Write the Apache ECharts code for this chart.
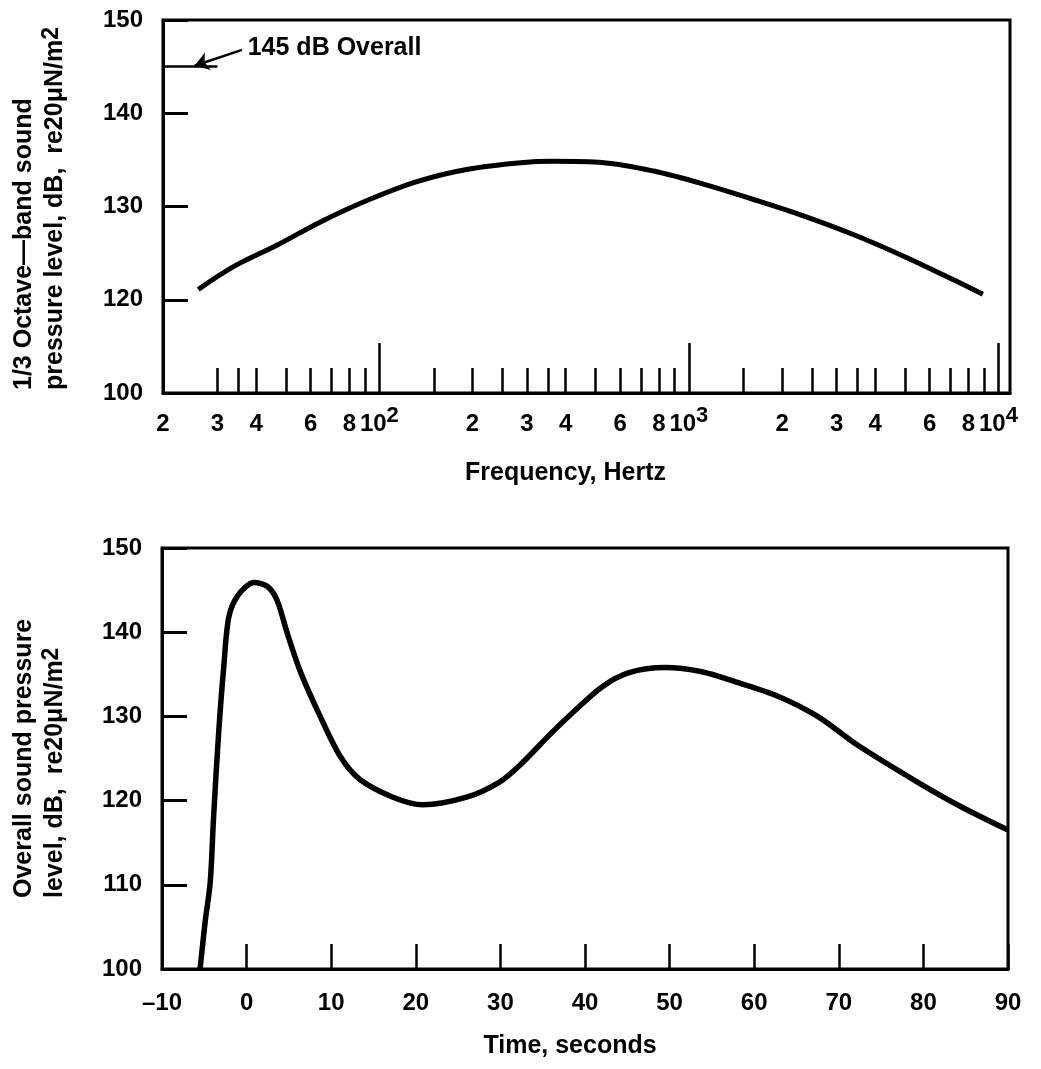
<!DOCTYPE html>
<html>
<head>
<meta charset="utf-8">
<script src="https://cdn.jsdelivr.net/npm/echarts@6/dist/echarts.min.js"></script>
<style>
  html, body { margin: 0; padding: 0; background: #fff; }
  #chart { width: 1041px; height: 1069px; }
</style>
</head>
<body>
<div id="chart"></div>
<script>
// 1/3 octave-band spectrum (top panel)
const freqHz = [26, 34, 47, 65, 92, 133, 193, 286, 366, 531, 769, 1115, 1617, 2343, 3396, 4922, 6796, 8909]
const bandLevelDb = [121.1, 123.6, 125.9, 128.4, 130.7, 132.7, 134.0, 134.7, 134.85, 134.7, 133.8, 132.4, 130.75, 129.0, 127.0, 124.7, 122.5, 120.6]

// overall level vs time (bottom panel)
const timeSec = [-5.5, -4.9, -4.3, -3.9, -3.3, -2.7, -2.1, -1.0, 0.9, 2.5, 3.6, 4.8, 6.4, 8.7, 11.1, 13.4, 17.3, 20.8, 26.0, 29.9, 32.2, 36.1, 38.5, 42.0, 45.2, 49.5, 53.8, 57.8, 62.8, 67.5, 72.2, 79.3, 84.4, 90]
const overallDb = [100, 105.6, 110.3, 118.1, 128.1, 135.9, 141.8, 144.4, 145.9, 145.4, 143.8, 139.9, 135.2, 130.0, 125.2, 122.5, 120.4, 119.5, 120.4, 122.2, 124.1, 128.1, 130.4, 133.5, 135.2, 135.8, 135.3, 134.1, 132.4, 130.0, 126.6, 122.2, 119.3, 116.5]

// frequency axis ticks and labels
const minorTicksHz = [30, 35, 40, 50, 60, 70, 80, 90, 150, 200, 250, 300, 350, 400, 500, 600, 700, 800, 900, 1500, 2000, 2500, 3000, 3500, 4000, 5000, 6000, 7000, 8000, 9000]
const majorTicksHz = [100, 1000, 10000]
const freqLabelsHz = [20, 30, 40, 60, 80, 100, 200, 300, 400, 600, 800, 1000, 2000, 3000, 4000, 6000, 8000, 10000]

// "145 dB Overall" marker
const overallMarkDb = 145
const overallMarkHz = [20, 30]
const arrowFrom = [36, 146.8]
const arrowTo = [25.3, 145.1]

const FONT = '"Liberation Sans", Arial, Helvetica, sans-serif'
const black = '#000'

function freqLabel(v) {
  const n = Math.round(v)
  const exp = Math.floor(Math.log10(n) + 1e-9)
  const p = Math.pow(10, exp)
  if (p === n) return '{n|10}{sup|' + exp + '}'
  return '{n|' + Math.round(n / p) + '}'
}

const chart = echarts.init(document.getElementById('chart'))

const logAxis = {
  type: 'log',
  logBase: 10,
  gridIndex: 0,
  position: 'bottom',
  offset: 0,
  min: 20,
  max: 10900,
  splitLine: { show: false },
  minorTick: { show: false },
  minorSplitLine: { show: false }
}

const labelStyle = { color: black, fontFamily: FONT, fontSize: 24, fontWeight: 'bold' }
const nameStyle = { color: black, fontFamily: FONT, fontSize: 25, fontWeight: 'bold' }

// rotated two-line y titles, superscript via rich text
function yTitle(line1, line2, x, y) {
  return {
    type: 'text',
    x: x,
    y: y,
    rotation: Math.PI / 2,
    style: {
      text: '{n|' + line1 + '}\n{n|' + line2 + '}{sup|2}',
      fill: black,
      fontSize: 25,
      fontWeight: 'bold',
      fontFamily: FONT,
      align: 'left',
      verticalAlign: 'middle',
      rich: {
        n: { fontSize: 25, fontWeight: 'bold', fontFamily: FONT, fill: black, lineHeight: 31 },
        sup: { fontSize: 23, fontWeight: 'bold', fontFamily: FONT, fill: black, lineHeight: 14, verticalAlign: 'top' }
      }
    }
  }
}

const option = {
  animation: false,
  backgroundColor: '#fff',
  grid: [
    { left: 163, top: 20, width: 847, height: 373, show: true, borderColor: black, borderWidth: 3 },
    { left: 162, top: 548, width: 846, height: 421, show: true, borderColor: black, borderWidth: 3 }
  ],
  xAxis: [
    {
      ...logAxis,
      name: 'Frequency, Hertz',
      nameLocation: 'middle',
      nameGap: 68,
      nameTextStyle: { ...nameStyle, padding: [0, 42, 0, 0] },
      axisLine: { show: true, onZero: false, lineStyle: { color: black, width: 3 } },
      axisTick: { show: true, inside: true, length: 25, customValues: minorTicksHz, lineStyle: { color: black, width: 2.5 } },
      axisLabel: {
        show: true,
        customValues: freqLabelsHz,
        margin: 12,
        formatter: freqLabel,
        ...labelStyle,
        rich: {
          n: { ...labelStyle, lineHeight: 39 },
          sup: { ...labelStyle, fontSize: 22, lineHeight: 24, verticalAlign: 'top' }
        }
      }
    },
    {
      ...logAxis,
      axisLine: { show: false, onZero: false },
      axisTick: { show: true, inside: true, length: 50, customValues: majorTicksHz, lineStyle: { color: black, width: 2.5 } },
      axisLabel: { show: false }
    },
    {
      type: 'value',
      gridIndex: 1,
      min: -10,
      max: 90,
      interval: 10,
      name: 'Time, seconds',
      nameLocation: 'middle',
      nameGap: 65,
      nameTextStyle: { ...nameStyle, padding: [0, 30, 0, 0] },
      axisLine: { show: true, onZero: false, lineStyle: { color: black, width: 3 } },
      axisTick: { show: true, inside: true, length: 25, lineStyle: { color: black, width: 2.5 } },
      axisLabel: {
        ...labelStyle, margin: 22,
        formatter: v => (v < 0 ? '\u2013' + Math.abs(v) : String(v))
      },
      splitLine: { show: false }
    }
  ],
  yAxis: [
    {
      type: 'value',
      gridIndex: 0,
      min: 110,
      max: 150,
      interval: 10,
      axisLine: { show: true, onZero: false, lineStyle: { color: black, width: 3 } },
      axisTick: { show: true, inside: true, length: 25, lineStyle: { color: black, width: 3 } },
      axisLabel: {
        ...labelStyle, margin: 20,
        // broken axis: the bottom of this scale is labelled 100
        formatter: v => (v === 110 ? '100' : String(v))
      },
      splitLine: { show: false }
    },
    {
      type: 'value',
      gridIndex: 1,
      min: 100,
      max: 150,
      interval: 10,
      axisLine: { show: true, onZero: false, lineStyle: { color: black, width: 3 } },
      axisTick: { show: true, inside: true, length: 25, lineStyle: { color: black, width: 3 } },
      axisLabel: { ...labelStyle, margin: 20 },
      splitLine: { show: false }
    }
  ],
  graphic: [
    yTitle('1/3 Octave\u2014band sound', 'pressure level, dB,  re20\u03bcN/m', 40, 390),
    yTitle('Overall sound pressure', 'level, dB,  re20\u03bcN/m', 40, 898)
  ],
  series: [
    {
      type: 'line',
      xAxisIndex: 0,
      yAxisIndex: 0,
      data: freqHz.map((f, i) => [f, bandLevelDb[i]]),
      smooth: 0.35,
      showSymbol: false,
      lineStyle: { color: black, width: 5 },
      markLine: {
        silent: true,
        animation: false,
        symbol: ['none', 'none'],
        lineStyle: { color: black, width: 2.5, type: 'solid' },
        label: { show: false },
        data: [
          [
            { coord: [overallMarkHz[0], overallMarkDb] },
            { coord: [overallMarkHz[1], overallMarkDb] }
          ],
          [
            {
              coord: arrowFrom,
              label: {
                show: true,
                position: 'start',
                distance: 6,
                formatter: '145 dB Overall',
                ...labelStyle,
                fontSize: 25
              }
            },
            { coord: arrowTo, symbol: 'arrow', symbolSize: 14 }
          ]
        ]
      }
    },
    {
      type: 'line',
      xAxisIndex: 2,
      yAxisIndex: 1,
      data: timeSec.map((t, i) => [t, overallDb[i]]),
      smooth: 0.3,
      showSymbol: false,
      lineStyle: { color: black, width: 5.5 }
    }
  ]
}

chart.setOption(option)
</script>
</body>
</html>
